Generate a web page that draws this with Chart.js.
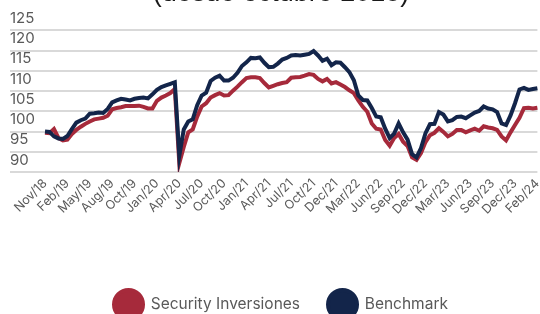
<!DOCTYPE html>
<html>
<head>
<meta charset="utf-8">
<script src="https://cdn.jsdelivr.net/npm/chart.js@4/dist/chart.umd.min.js"></script>
<style>
  html, body { margin: 0; padding: 0; background: #fff; overflow: hidden; }
  body { width: 540px; height: 314px; position: relative; }
  #wrap { position: absolute; left: 0; top: -23px; width: 552px; height: 352px; }
</style>
</head>
<body>
<div id="wrap"><canvas id="chart"></canvas></div>
<script>
// Índice base 100 desde octubre 2018, una etiqueta cada STEP puntos
const tickLabels = ['Nov/18', 'Feb/19', 'May/19', 'Aug/19', 'Oct/19', 'Jan/20', 'Apr/20', 'Jul/20',
  'Oct/20', 'Jan/21', 'Apr/21', 'Jul/21', 'Oct/21', 'Dec/21', 'Mar/22', 'Jun/22', 'Sep/22',
  'Dec/22', 'Mar/23', 'Jun/23', 'Sep/23', 'Dec/23', 'Feb/24'];
const STEP = 5;

const fundValues = [
  99.7, 99.6, 100.6, 98.4, 97.8, 98.0, 99.4, 100.4, 101.2, 101.9,
  102.5, 103.0, 103.2, 103.4, 103.9, 105.5, 105.8, 106.0, 106.3, 106.3,
  106.3, 106.4, 106.1, 105.7, 105.7, 107.6, 108.4, 108.9, 109.5, 110.5,
  92.2, 96.2, 99.8, 100.5, 103.7, 106.2, 107.0, 108.4, 109.0, 109.5,
  108.9, 109.0, 110.1, 111.1, 112.2, 113.2, 113.4, 113.4, 113.2, 112.0,
  110.9, 111.3, 111.7, 112.0, 112.2, 113.3, 113.4, 113.5, 113.8, 114.2,
  114.0, 113.0, 112.4, 113.0, 111.9, 112.2, 111.6, 111.0, 110.2, 109.5,
  107.7, 106.1, 104.9, 102.0, 100.7, 100.5, 97.9, 96.5, 98.4, 99.4,
  97.5, 96.4, 93.6, 93.0, 94.7, 97.4, 99.1, 99.7, 100.8, 99.9,
  98.8, 99.4, 100.4, 100.4, 99.8, 100.3, 100.7, 100.2, 101.3, 101.0,
  100.8, 100.4, 98.8, 97.8, 99.8, 101.6, 103.4, 105.8, 105.9, 105.7,
  105.9
];
const benchValues = [
  100.0, 99.9, 98.8, 98.3, 98.2, 98.9, 100.6, 102.2, 102.8, 103.2,
  104.4, 104.5, 104.7, 104.6, 105.6, 107.2, 107.7, 108.1, 107.9, 107.7,
  108.1, 108.3, 108.4, 108.2, 109.2, 110.3, 111.0, 111.4, 111.8, 112.2,
  94.0, 100.5, 102.5, 103.0, 106.5, 108.9, 109.6, 112.5, 113.3, 113.8,
  112.6, 112.6, 113.3, 114.5, 116.2, 117.1, 118.2, 118.1, 118.3, 117.0,
  115.9, 116.0, 116.8, 117.8, 118.2, 118.8, 118.9, 118.8, 119.0, 119.2,
  119.9, 118.8, 117.5, 118.0, 116.4, 117.1, 117.0, 115.9, 114.7, 112.7,
  108.9, 107.8, 107.7, 105.8, 103.7, 103.5, 100.7, 98.4, 99.5, 102.0,
  99.8, 98.0, 94.4, 93.6, 95.9, 99.6, 101.8, 101.9, 104.8, 104.2,
  102.5, 102.8, 103.6, 103.7, 103.3, 104.0, 104.7, 105.1, 106.2, 105.7,
  105.5, 104.8, 102.0, 101.6, 104.0, 107.0, 110.4, 110.8, 110.3, 110.5,
  110.7
];

const COLOR_FUND  = '#a62a3b';
const COLOR_BENCH = '#13254a';
const COLOR_GRID  = '#d9d9d9';
const COLOR_TICK  = '#595959';
const FONT = 'Inter, "Noto Sans", sans-serif';

const labels = fundValues.map((_, i) => tickLabels[Math.floor(i / STEP)]);

new Chart(document.getElementById('chart'), {
  type: 'line',
  data: {
    labels,
    datasets: [
      {
        label: 'Security Inversiones',
        data: fundValues,
        borderColor: COLOR_FUND,
        backgroundColor: COLOR_FUND,
        borderWidth: 4,
        pointRadius: 0,
        tension: 0,
        order: 1,
      },
      {
        label: 'Benchmark',
        data: benchValues,
        borderColor: COLOR_BENCH,
        backgroundColor: COLOR_BENCH,
        borderWidth: 4,
        pointRadius: 0,
        tension: 0,
        order: 0,            // benchmark por encima de la línea del fondo
      },
    ],
  },
  options: {
    responsive: true,
    maintainAspectRatio: false,
    animation: false,
    layout: { padding: { left: 10, right: 0, top: 0, bottom: 0 } },
    scales: {
      x: {
        grid: { display: false, drawTicks: false },
        border: { display: false },
        afterFit: (s) => { s.height = 90; },
        ticks: {
          autoSkip: false,
          minRotation: 45,
          maxRotation: 45,
          padding: 4,
          color: COLOR_TICK,
          font: { family: FONT, size: 12.5 },
          callback: (v, i) => (i % STEP === 0 ? tickLabels[i / STEP] : ''),
        },
      },
      y: {
        min: 90,
        max: 125,
        afterFit: (s) => { s.width = 35; },
        border: { display: false },
        // la marca del tick prolonga la línea de grilla bajo las etiquetas
        grid: { color: COLOR_GRID, lineWidth: 2, drawTicks: true, tickLength: 35 },
        ticks: {
          stepSize: 5,
          autoSkip: false,
          maxTicksLimit: 20,
          crossAlign: 'far',
          labelOffset: -12,
          padding: 0,
          color: COLOR_TICK,
          font: { family: FONT, size: 15 },
        },
      },
    },
    plugins: {
      title: {
        display: true,
        text: '(desde octubre 2018)',
        color: '#1a1a1a',
        font: { family: '"Liberation Sans", Arial, sans-serif', size: 27, weight: 'normal' },
        padding: { top: 0, bottom: 21 },
      },
      legend: {
        display: true,
        position: 'bottom',
        labels: {
          sort: (a, b) => a.datasetIndex - b.datasetIndex,
          color: COLOR_TICK,
          font: { family: FONT, size: 15.5 },
          boxWidth: 29,
          boxHeight: 29,
          useBorderRadius: true,
          borderRadius: 14.5,
          padding: 28,
        },
      },
      tooltip: { enabled: false },
    },
  },
});
</script>
</body>
</html>
